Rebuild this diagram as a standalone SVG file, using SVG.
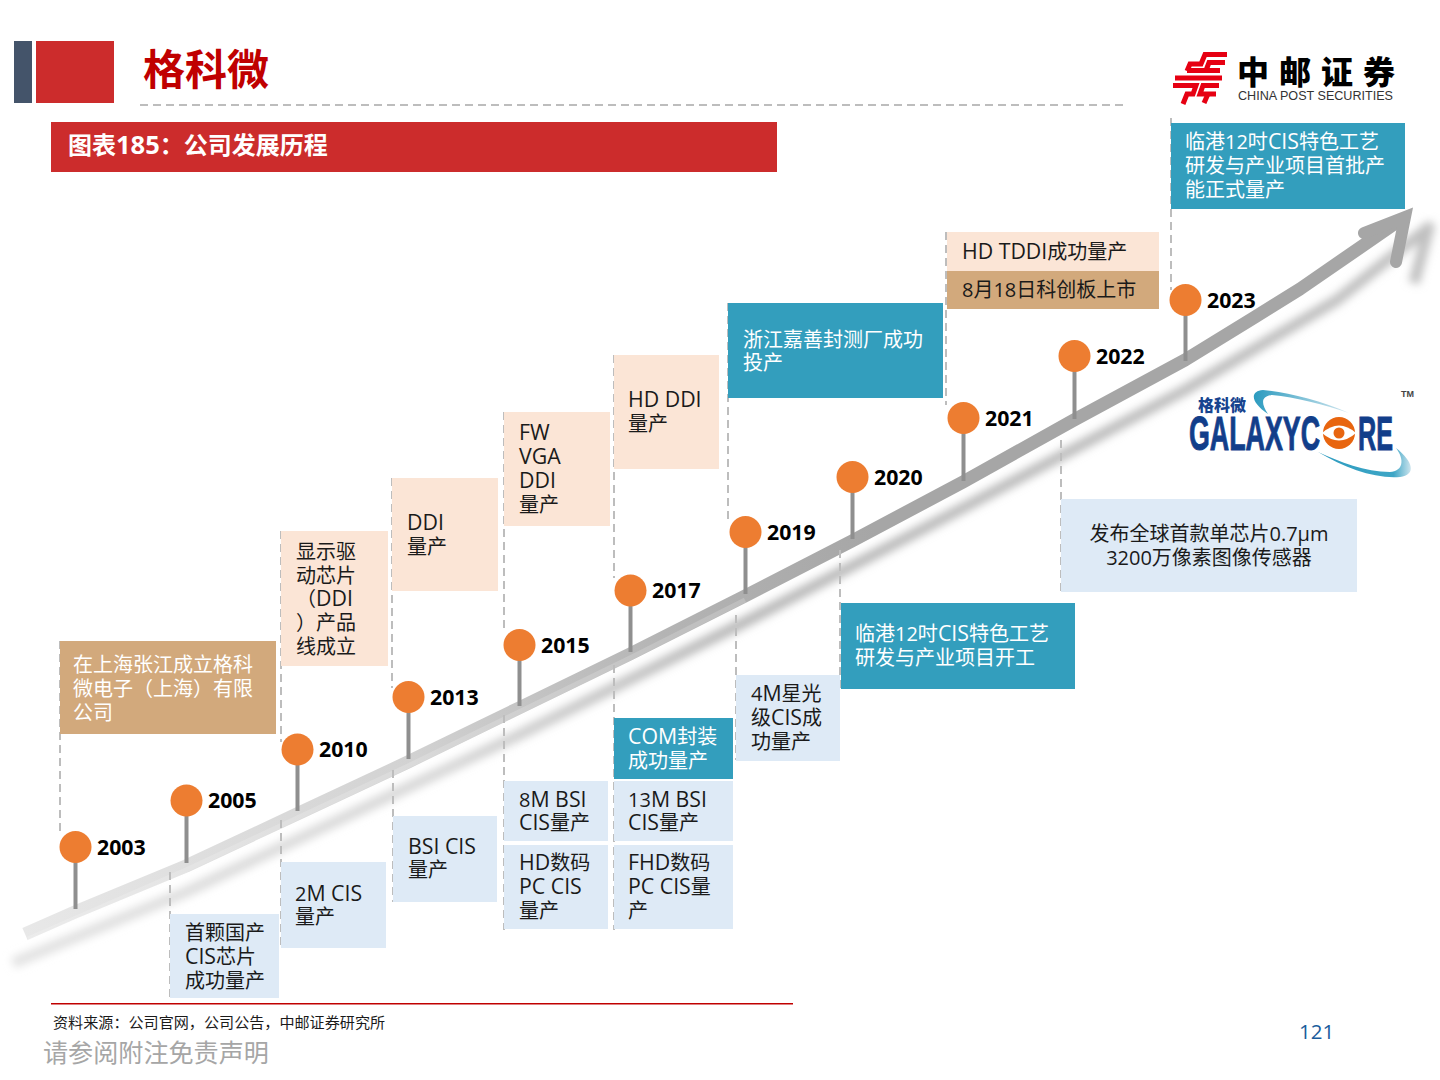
<svg xmlns="http://www.w3.org/2000/svg" width="1440" height="1080" viewBox="0 0 1440 1080">
<style>
text{font-family:"Open Sans","Noto Sans CJK SC",sans-serif}
.t{font-size:20px;fill:#1a1a1a}
.w{font-size:20px;fill:#fff}
.l{font-size:21.3px}
.tan{fill:#d2a97c}.pe{fill:#fbe5d6}.te{fill:#339ebd}.bl{fill:#deeaf6}
.d{stroke:#bdbdbd;stroke-width:2;stroke-dasharray:8 5;fill:none}
.s{stroke:#8f8f8f;stroke-width:4;fill:none}
.c{fill:#ed7d31}
.y{font-size:21.3px;font-weight:700;fill:#000}
.r{stroke:#e60012;stroke-width:5;fill:none}
.ar{font-family:"Liberation Sans",sans-serif}
.cj{font-family:"Noto Sans CJK SC",sans-serif}
.gc{font-family:"Liberation Sans",sans-serif;font-size:49px;font-weight:700;fill:#123e8a;stroke:#123e8a;stroke-width:1px}
</style>
<defs>
<linearGradient id="ag" gradientUnits="userSpaceOnUse" x1="25" y1="934" x2="1415" y2="208">
<stop offset="0" stop-color="#e8e8e8"/><stop offset=".27" stop-color="#d2d2d2"/><stop offset=".45" stop-color="#b4b4b4"/><stop offset=".6" stop-color="#a6a6a6"/><stop offset="1" stop-color="#a6a6a6"/>
</linearGradient>
<linearGradient id="sh" gradientUnits="userSpaceOnUse" x1="13" y1="963" x2="1429" y2="227">
<stop offset="0" stop-color="#e2e2e2"/><stop offset=".3" stop-color="#d6d6d6"/><stop offset=".5" stop-color="#b8b8b8"/><stop offset="1" stop-color="#c0c0c0"/>
</linearGradient>
<linearGradient id="sw" gradientUnits="userSpaceOnUse" x1="1255" y1="400" x2="1350" y2="410">
<stop offset="0" stop-color="#2e9cc0"/><stop offset="1" stop-color="#d5e8f0"/>
</linearGradient>
<linearGradient id="sw2" gradientUnits="userSpaceOnUse" x1="1320" y1="470" x2="1412" y2="470">
<stop offset="0" stop-color="#2e9cc0"/><stop offset=".8" stop-color="#3ea6c6"/><stop offset="1" stop-color="#d5e8f0"/>
</linearGradient>
<filter id="b" x="-10%" y="-10%" width="120%" height="120%"><feGaussianBlur stdDeviation="4.500"/></filter>
</defs>
<rect width="1440" height="1080" fill="#fff"/>
<g id="header">
<rect x="14" y="41" width="18" height="62" fill="#44546a"/>
<rect x="36" y="41" width="78" height="62" fill="#cc2c2c"/>
<text x="143" y="85" font-size="42" font-weight="700" fill="#c00000">格科微</text>
<line x1="140" y1="105" x2="1123" y2="105" class="d"/>
<rect x="51" y="122" width="726" height="50" fill="#cc2c2c"/>
<text x="68" y="154" font-size="24" font-weight="700" fill="#fff">图表<tspan font-size="25.500">185</tspan>：公司发展历程</text>
</g>
<g id="logo-china-post">
<path class="r" d="M1227 54.500H1205L1201 64H1190L1187 71"/>
<path class="r" d="M1225 62.500H1209L1206 70.500H1187"/>
<path class="r" d="M1222 78H1175"/>
<path class="r" d="M1220 70.500H1206"/>
<path class="r" d="M1173 85.500H1196L1193 94H1187L1183 104"/>
<path class="r" d="M1219 85.500H1203L1200 94H1216"/>
<path class="r" d="M1208 94L1204 103"/>
<text x="1237" y="84" font-size="32" font-weight="900" fill="#000" letter-spacing="10" class="cj">中邮证券</text>
<text x="1238" y="100" font-size="12.500" fill="#333" class="ar" textLength="155" lengthAdjust="spacingAndGlyphs">CHINA POST SECURITIES</text>
</g>
<g id="connectors">
<path d="M13 963L186 892L519 735L745 622L963 508L1185 390L1337 300L1429 227L1414 283" stroke="url(#sh)" stroke-width="11" fill="none" filter="url(#b)" stroke-linejoin="round"/>
<path id="shaft" d="M25 934L75 912L186 866L297 814L408 762L519 708L630 654L745 596L852 541L963 482L1074 420L1185 360L1255 317L1300 289L1400 220" stroke="url(#ag)" stroke-width="13" fill="none" stroke-linejoin="round"/>
<path d="M28 939L186 870L408 766L630 658L745 600" stroke="#fff" stroke-opacity=".18" stroke-width="5" fill="none"/>
<path d="M1364 233L1405 217L1396 262" stroke="#a6a6a6" stroke-width="12" stroke-linecap="round" stroke-linejoin="miter" fill="none"/>
<path class="d" d="M60 641V835M170 872V998M281 531V742M281 820V948M392 478V688M393 770V902M504 412V632M504 715V930M614 355V578M614 665V930M728 303V520M736 615V760M840 550V690M946 232V405M1061 440V592M1171 118V290"/>
<path class="s" d="M75.500 860V909M186.500 815V863M297.500 765V811M408.500 712V759M519.500 660V706M630.500 605V652M745.500 545V594M852.500 490V539M963.500 432V481M1074.500 370V419M1185.500 315V361"/>
</g>
<g id="n-2003-box"><rect class="tan" x="60" y="641" width="216" height="93"/><text class="w" x="73" y="672">在上海张江成立格科</text><text class="w" x="73" y="696">微电子（上海）有限</text><text class="w" x="73" y="720">公司</text></g>
<g id="n-2005-box"><rect class="bl" x="170" y="914" width="109" height="84"/><text class="t" x="185" y="940">首颗国产</text><text class="t" x="185" y="964"><tspan class="l">CIS</tspan>芯片</text><text class="t" x="185" y="988">成功量产</text></g>
<g id="n-2010-a"><rect class="pe" x="281" y="531" width="107" height="135"/><text class="t" x="296" y="559">显示驱</text><text class="t" x="296" y="583">动芯片</text><text class="t" x="296" y="606">（<tspan class="l">DDI</tspan></text><text class="t" x="296" y="630">）产品</text><text class="t" x="296" y="654">线成立</text></g>
<g id="n-2010-b"><rect class="bl" x="281" y="862" width="105" height="86"/><text class="t" x="295" y="901">2<tspan class="l">M CIS</tspan></text><text class="t" x="295" y="924">量产</text></g>
<g id="n-2013-a"><rect class="pe" x="392" y="478" width="106" height="113"/><text class="t" x="407" y="530"><tspan class="l">DDI</tspan></text><text class="t" x="407" y="554">量产</text></g>
<g id="n-2013-b"><rect class="bl" x="393" y="816" width="104" height="86"/><text class="t" x="408" y="854"><tspan class="l">BSI CIS</tspan></text><text class="t" x="408" y="877">量产</text></g>
<g id="n-2015-a"><rect class="pe" x="504" y="412" width="106" height="114"/><text class="t" x="519" y="440"><tspan class="l">FW</tspan></text><text class="t" x="519" y="464"><tspan class="l">VGA</tspan></text><text class="t" x="519" y="488"><tspan class="l">DDI</tspan></text><text class="t" x="519" y="512">量产</text></g>
<g id="n-2015-b"><rect class="bl" x="504" y="781" width="104" height="60"/><text class="t" x="519" y="807">8<tspan class="l">M BSI</tspan></text><text class="t" x="519" y="830"><tspan class="l">CIS</tspan>量产</text></g>
<g id="n-2015-c"><rect class="bl" x="504" y="845" width="104" height="84"/><text class="t" x="519" y="870"><tspan class="l">HD</tspan>数码</text><text class="t" x="519" y="894"><tspan class="l">PC CIS</tspan></text><text class="t" x="519" y="918">量产</text></g>
<g id="n-2017-a"><rect class="pe" x="614" y="355" width="105" height="114"/><text class="t" x="628" y="407"><tspan class="l">HD DDI</tspan></text><text class="t" x="628" y="431">量产</text></g>
<g id="n-2017-b"><rect class="te" x="614" y="718" width="119" height="61"/><text class="w" x="628" y="744"><tspan class="l">COM</tspan>封装</text><text class="w" x="628" y="768">成功量产</text></g>
<g id="n-2017-c"><rect class="bl" x="614" y="781" width="119" height="60"/><text class="t" x="628" y="807">13<tspan class="l">M BSI</tspan></text><text class="t" x="628" y="830"><tspan class="l">CIS</tspan>量产</text></g>
<g id="n-2017-d"><rect class="bl" x="614" y="845" width="119" height="84"/><text class="t" x="628" y="870"><tspan class="l">FHD</tspan>数码</text><text class="t" x="628" y="894"><tspan class="l">PC CIS</tspan>量</text><text class="t" x="628" y="918">产</text></g>
<g id="n-2019-a"><rect class="te" x="728" y="303" width="215" height="95"/><text class="w" x="743" y="347">浙江嘉善封测厂成功</text><text class="w" x="743" y="370">投产</text></g>
<g id="n-2019-b"><rect class="bl" x="736" y="675" width="104" height="86"/><text class="t" x="751" y="701">4<tspan class="l">M</tspan>星光</text><text class="t" x="751" y="725">级<tspan class="l">CIS</tspan>成</text><text class="t" x="751" y="749">功量产</text></g>
<g id="n-2020"><rect class="te" x="841" y="603" width="234" height="86"/><text class="w" x="855" y="641">临港12吋<tspan class="l">CIS</tspan>特色工艺</text><text class="w" x="855" y="665">研发与产业项目开工</text></g>
<g id="n-2021-a"><rect class="pe" x="947" y="232" width="212" height="39"/><text class="t" x="962" y="259"><tspan class="l">HD TDDI</tspan>成功量产</text></g>
<g id="n-2021-b"><rect class="tan" x="947" y="271" width="212" height="38"/><text class="t" x="962" y="297">8月18日科创板上市</text></g>
<g id="n-2022"><rect class="bl" x="1061" y="499" width="296" height="93"/><text class="t" x="1209" y="541" text-anchor="middle">发布全球首款单芯片0.7μm</text><text class="t" x="1209" y="565" text-anchor="middle">3200万像素图像传感器</text></g>
<g id="n-2023"><rect class="te" x="1171" y="123" width="234" height="86"/><text class="w" x="1185" y="149">临港12吋<tspan class="l">CIS</tspan>特色工艺</text><text class="w" x="1185" y="173">研发与产业项目首批产</text><text class="w" x="1185" y="197">能正式量产</text></g>
<g id="p2003"><circle class="c" cx="75.500" cy="847" r="16"/><text class="y" x="97" y="855">2003</text></g>
<g id="p2005"><circle class="c" cx="186.500" cy="800.500" r="16"/><text class="y" x="208" y="808">2005</text></g>
<g id="p2010"><circle class="c" cx="297.500" cy="749.500" r="16"/><text class="y" x="319" y="757">2010</text></g>
<g id="p2013"><circle class="c" cx="408.500" cy="697" r="16"/><text class="y" x="430" y="705">2013</text></g>
<g id="p2015"><circle class="c" cx="519.500" cy="645" r="16"/><text class="y" x="541" y="653">2015</text></g>
<g id="p2017"><circle class="c" cx="630.500" cy="590.500" r="16"/><text class="y" x="652" y="598">2017</text></g>
<g id="p2019"><circle class="c" cx="745.500" cy="532" r="16"/><text class="y" x="767" y="540">2019</text></g>
<g id="p2020"><circle class="c" cx="852.500" cy="477" r="16"/><text class="y" x="874" y="485">2020</text></g>
<g id="p2021"><circle class="c" cx="963.500" cy="418" r="16"/><text class="y" x="985" y="426">2021</text></g>
<g id="p2022"><circle class="c" cx="1074.500" cy="356" r="16"/><text class="y" x="1096" y="364">2022</text></g>
<g id="p2023"><circle class="c" cx="1185.500" cy="300" r="16"/><text class="y" x="1207" y="308">2023</text></g>
<g id="logo-galaxycore">
<path d="M1349 413C1320 400 1285 392 1263 390C1250 391 1250 402 1268 414C1260 402 1262 396 1272 395C1295 397 1325 405 1349 413Z" fill="url(#sw)"/>
<path d="M1318 452C1345 468 1375 479 1400 477C1416 475 1414 462 1396 448C1405 460 1403 471 1390 472C1365 472 1340 462 1318 452Z" fill="url(#sw2)"/>
<text x="1198" y="411" font-size="16" font-weight="900" fill="#17448f" class="cj">格科微</text>
<text x="1189" y="450" class="gc" textLength="131" lengthAdjust="spacingAndGlyphs">GALAXYC</text>
<text x="1358" y="450" class="gc" textLength="35" lengthAdjust="spacingAndGlyphs">RE</text>
<circle cx="1339" cy="433" r="16" fill="#e8650f"/>
<path d="M1322 433Q1339 418 1356 433Q1339 448 1322 433Z" fill="#fff"/>
<circle cx="1339" cy="433" r="5.500" fill="#e8650f"/>
<text x="1401" y="397" font-size="9" font-weight="700" fill="#444" class="ar">TM</text>
</g>
<g id="footer">
<rect x="51" y="1003" width="742" height="1.500" fill="#c00000"/>
<text x="53" y="1028" font-size="15.100" fill="#1a1a1a">资料来源：公司官网，公司公告，中邮证券研究所</text>
<text x="43" y="1062" font-size="25.100" fill="#a6a6a6">请参阅附注免责声明</text>
<text x="1299" y="1039" font-size="20.500" fill="#1a5c9c">121</text>
</g>
</svg>
